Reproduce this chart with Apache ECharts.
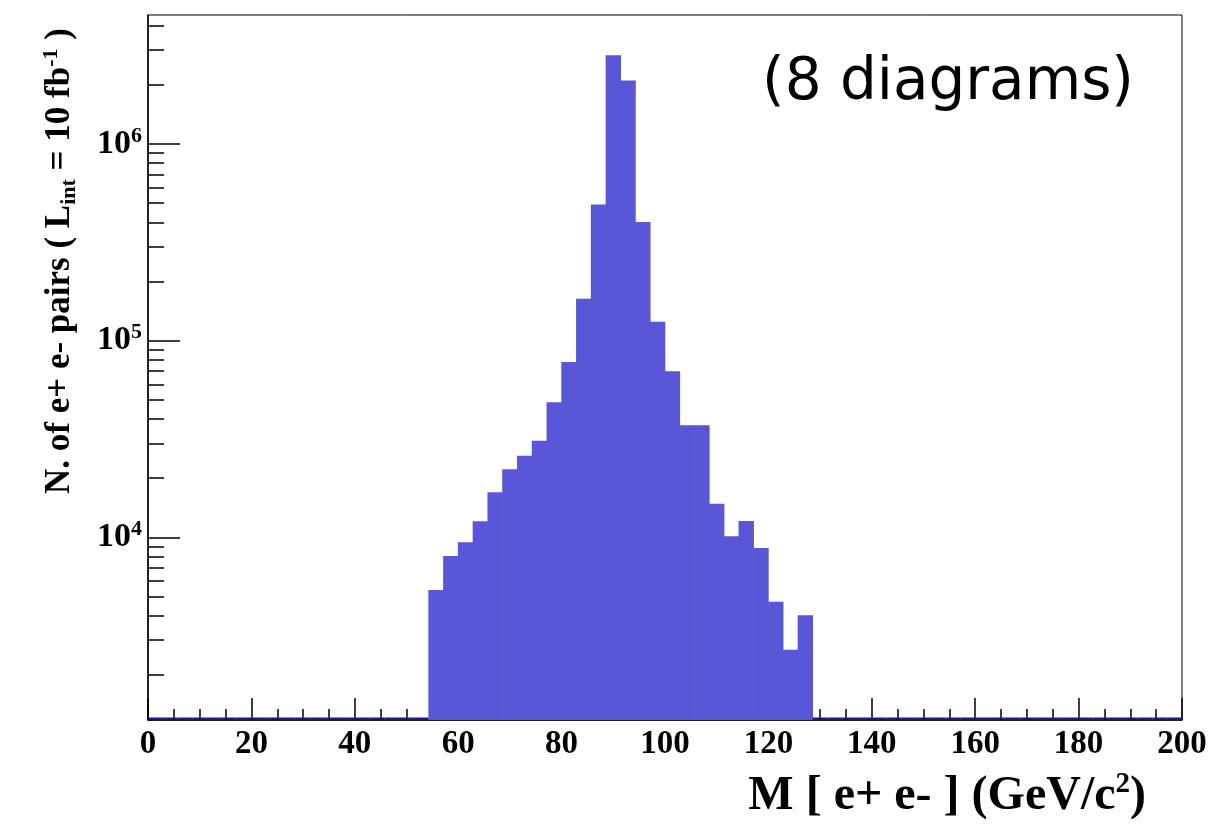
<!DOCTYPE html>
<html>
<head>
<meta charset="utf-8">
<title>M [ e+ e- ]</title>
<script src="https://cdn.jsdelivr.net/npm/echarts@6/dist/echarts.min.js"></script>
<style>
html,body{margin:0;padding:0;background:#fff;}
#container{width:1215px;height:825px;}
</style>
</head>
<body>
<div id="container"></div>
<script>
// histogram: 70 bins from 0 to 200 GeV/c2, non-empty bins start at bin 19
var nBins = 70;
var xMin = 0, xMax = 200;
var firstBin = 19;
var counts = [5395, 8035, 9430, 12070, 16930, 22170, 25990, 30980, 48570, 77850,
              163300, 493000, 2831000, 2105000, 400900, 124800, 69810, 37100, 37100, 14820,
              10120, 12100, 8820, 4706, 2683, 4013];
var yMin = 1178, yMax = 4530000;
var yMajor = [1e4, 1e5, 1e6];
var yMinor = [2000, 3000, 4000, 5000, 6000, 7000, 8000, 9000,
              20000, 30000, 40000, 50000, 60000, 70000, 80000, 90000,
              200000, 300000, 400000, 500000, 600000, 700000, 800000, 900000,
              2000000, 3000000, 4000000];

var binWidth = (xMax - xMin) / nBins;
var histData = [];
for (var i = 0; i < nBins; i++) {
	var c = 0;
	if (i >= firstBin && i < firstBin + counts.length) c = counts[i - firstBin];
	histData.push([xMin + i * binWidth, xMin + (i + 1) * binWidth, c]);
}

var serif = '"Liberation Serif", "Times New Roman", serif';

var mychart = echarts.init(document.getElementById('container'), null, {renderer: 'canvas'});
var option = {
	animation: false,
	grid: {
		left: 148, right: 33, top: 15, bottom: 105,
		show: true, borderColor: '#000', borderWidth: 1, backgroundColor: '#fff'
	},
	xAxis: {
		type: 'value',
		min: xMin, max: xMax, interval: 20,
		axisLine: {show: true, onZero: false, lineStyle: {color: '#000', width: 1.5}},
		axisTick: {show: true, inside: true, length: 22, lineStyle: {color: '#000', width: 1.5}},
		minorTick: {show: true, splitNumber: 4, length: 11, lineStyle: {color: '#000', width: 1.5}},
		axisLabel: {color: '#000', fontFamily: serif, fontWeight: 'bold', fontSize: 33, margin: 8},
		splitLine: {show: false}
	},
	yAxis: [{
		type: 'log', logBase: 10,
		min: yMin, max: yMax,
		axisLine: {show: true, lineStyle: {color: '#000', width: 1.5}},
		axisTick: {show: true, inside: true, length: 16, customValues: yMinor, lineStyle: {color: '#000', width: 1.5}},
		axisLabel: {
			customValues: yMajor,
			margin: 6,
			formatter: function (v) {
				return '{b|10}{s|' + Math.round(Math.log10(v)) + '}';
			},
			rich: {
				b: {color: '#000', fontFamily: serif, fontWeight: 'bold', fontSize: 34},
				s: {color: '#000', fontFamily: serif, fontWeight: 'bold', fontSize: 22, verticalAlign: 'bottom', padding: [0, 0, 16, 0]}
			}
		},
		splitLine: {show: false}
	}, {
		type: 'log', logBase: 10,
		min: yMin, max: yMax,
		position: 'left',
		axisLine: {show: false},
		axisTick: {show: true, inside: true, length: 32, customValues: yMajor, lineStyle: {color: '#000', width: 1.5}},
		axisLabel: {show: false},
		splitLine: {show: false}
	}],
	series: [{
		type: 'custom',
		clip: true,
		data: histData,
		renderItem: function (params, api) {
			var x0 = api.value(0), x1 = api.value(1), c = api.value(2);
			var cs = params.coordSys;
			var p0 = api.coord([x0, yMin]);
			var p1 = api.coord([x1, yMin]);
			if (c > 0) {
				var top = api.coord([x0, c]);
				return {
					type: 'rect',
					shape: {x: p0[0] - 0.3, y: top[1], width: p1[0] - p0[0] + 0.6, height: cs.y + cs.height - top[1]},
					style: {fill: '#5a56d8'}
				};
			}
			// empty bins: histogram line sits on the bottom of the frame
			return {
				type: 'rect',
				shape: {x: p0[0], y: cs.y + cs.height - 2.5, width: p1[0] - p0[0], height: 2},
				style: {fill: '#1a1a8c'}
			};
		}
	}],
	graphic: [{
		type: 'text',
		x: 60, y: 494,
		rotation: Math.PI / 2,
		style: {
			text: '{t|N. of e+ e- pairs ( L}{sub|int}{t| = 10 fb}{sup|-1}{t| )}',
			textAlign: 'left', textVerticalAlign: 'middle',
			rich: {
				t: {fill: '#000', fontFamily: serif, fontWeight: 'bold', fontSize: 35},
				sub: {fill: '#000', fontFamily: serif, fontWeight: 'bold', fontSize: 22, verticalAlign: 'top', padding: [18, 0, 0, 0]},
				sup: {fill: '#000', fontFamily: serif, fontWeight: 'bold', fontSize: 22, verticalAlign: 'bottom', padding: [0, 0, 18, 0]}
			}
		}
	}, {
		type: 'text',
		x: 1146, y: 797,
		style: {
			text: '{t|M [ e+ e- ] (GeV/c}{sup|2}{t|)}',
			textAlign: 'right', textVerticalAlign: 'middle',
			rich: {
				t: {fill: '#000', fontFamily: serif, fontWeight: 'bold', fontSize: 48},
				sup: {fill: '#000', fontFamily: serif, fontWeight: 'bold', fontSize: 29, verticalAlign: 'bottom', padding: [0, 0, 24, 0]}
			}
		}
	}, {
		type: 'text',
		x: 1134, y: 84,
		style: {
			text: '(8 diagrams)',
			textAlign: 'right', textVerticalAlign: 'middle',
			fill: '#000', fontFamily: '"DejaVu Sans", sans-serif', fontSize: 58
		}
	}]
};
mychart.setOption(option);
</script>
</body>
</html>
